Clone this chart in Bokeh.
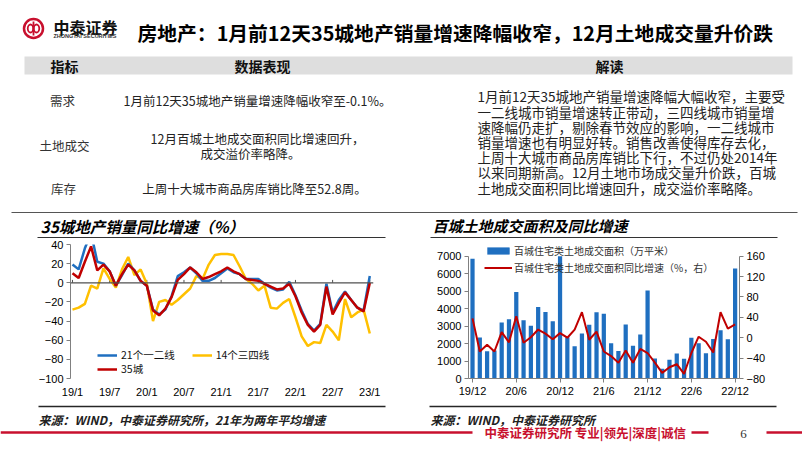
from bokeh.plotting import figure
from bokeh.models import Range1d, LinearAxis, FixedTicker, Span, Legend, LegendItem
from bokeh.layouts import column, row
from bokeh.core.properties import value
from bokeh.embed import file_html
from bokeh.resources import INLINE

CJK = "Noto Sans CJK SC"
LAT = "Liberation Sans"
RED = "#c00000"
BLUE = "#1f6fc0"
YELLOW = "#ffc000"
BRAND = "#c8102e"

# ---------------- data ----------------
sales_months = [f"{y}/{m}" for y in range(19, 24) for m in range(1, 13)][:49]
sales_tick_labels = ["19/1", "19/7", "20/1", "20/7", "21/1", "21/7", "22/1", "22/7", "23/1"]
sales_tier12 = [19, 14, 36, 52, 22, 20, 12, -3, 8, 20, 13, 2, -3, -28, -33, -28, -14, 7, 11, 16, 10, 2, 2, 5, 10,
                15, 11, 9, 4, 4, 4, -1, -5, -8, -7, 1, -13, -29, -43, -50, -43, -1, -31, -18, -9, -18, -26, -29, 7]
sales_tier34 = [-28, -26, -22, -3, -6, 15, 4, -5, 14, 27, 8, 14, -1, -40, -20, -18, -23, -18, -12, -6, 7, 4, 19, 29, 30,
                30, 29, 17, 4, -1, -8, -3, -26, -27, -21, -17, -36, -56, -66, -62, -63, -44, -51, -60, -17, -36, -31, -28, -53]
sales_35 = [10, 5, 22, 38, 13, 19, 12, -3, 9, 19, 13, 2, -3, -29, -34, -27, -15, 3, 9, 16, 11, 4, 6, 9, 12,
            16, 12, 9, 4, 3, 2, -1, -4, -7, -6, -1, -14, -31, -44, -51, -44, -4, -33, -21, -10, -18, -26, -30, -0.1]
sales_y_ticks = [-100, -80, -60, -40, -20, 0, 20, 40]

land_months = ["19/12"] + [f"{y}/{m}" for y in range(20, 23) for m in range(1, 13)]
land_tick_labels = ["19/12", "20/6", "20/12", "21/6", "21/12", "22/6", "22/12"]
land_area = [6850, 2350, 1560, 1600, 3200, 3390, 4950, 3330, 3020, 4090, 3810, 3270, 7000, 2360, 1840, 2570, 3080, 3790,
             3700, 2020, 1570, 3090, 1880, 2520, 5040, 1140, 560, 1070, 1430, 1130, 2330, 2020, 1440, 2260, 2760, 2250, 6300]
land_yoy = [38, -27, -14, -27, 11, -9, 42, -10, 1, 16, 8, -3, 9, 0, 16, 50, -4, 12, -27, -36, -49, -25, -49, -22, -30,
            -49, -69, -58, -52, -71, -30, 2, -8, -29, 50, 18, 26]
land_left_ticks = [0, 1000, 2000, 3000, 4000, 5000, 6000, 7000]
land_right_ticks = [-80, -40, 0, 40, 80, 120, 160]

title_text = "房地产：1月前12天35城地产销量增速降幅收窄，12月土地成交量升价跌"
table_headers = ["指标", "数据表现", "解读"]
table_names = ["需求", "土地成交", "库存"]
table_values = ["1月前12天35城地产销量增速降幅收窄至-0.1%。",
                "12月百城土地成交面积同比增速回升，",
                "成交溢价率略降。",
                "上周十大城市商品房库销比降至52.8周。"]
comment_lines = ["1月前12天35城地产销量增速降幅大幅收窄，主要受",
                 "一二线城市销量增速转正带动，三四线城市销量增",
                 "速降幅仍走扩，剔除春节效应的影响，一二线城市",
                 "销量增速也有明显好转。销售改善使得库存去化，",
                 "上周十大城市商品房库销比下行，不过仍处2014年",
                 "以来同期新高。12月土地市场成交量升价跌，百城",
                 "土地成交面积同比增速回升，成交溢价率略降。"]


def canvas(w, h, x0, x1, ytop, ybot):
    p = figure(width=w, height=h, x_range=Range1d(x0, x1), y_range=Range1d(ybot, ytop),
               output_backend="svg", toolbar_location=None, min_border=0,
               x_axis_location=None, y_axis_location=None)
    p.grid.visible = False
    p.outline_line_color = None
    p.background_fill_color = "white"
    p.border_fill_color = "white"
    return p


def txt(p, x, y, t, size, font=CJK, style="normal", color="#222222", align="left"):
    p.text(x=x, y=y, text=t, text_font=value(font), text_font_size=size, text_font_style=style,
           text_color=color, text_align=align, text_baseline="middle")


# ---------------- header canvas (page y 0..240) ----------------
head = canvas(802, 240, 0, 802, 0, 240)
head.circle(x=[33], y=[28], radius=9.5, fill_color="white", line_color=BRAND, line_width=2.5)
head.ellipse(x=[30, 36], y=[28, 28], width=5.5, height=8, fill_color=None, line_color=BRAND, line_width=1.8)
head.segment(x0=[33], y0=[21], x1=[33], y1=[35], line_color=BRAND, line_width=1.8)
txt(head, [53], [26], ["中泰证券"], "16px", style="bold", color="#111111")
txt(head, [53], [35.5], ["ZHONGTAI SECURITIES"], "5.5px", font=LAT, style="bold", color="#333333")
txt(head, [137], [32], [title_text], "19.8px", style="bold", color="#000000")

head.quad(left=[24], right=[792], top=[56], bottom=[74], fill_color="#dedede", line_color=None)
txt(head, [64, 262, 609], [65, 65, 65], table_headers, "14px", style="bold", color="#111111", align="center")
txt(head, [62, 64, 63], [100, 145, 188], table_names, "12.5px", color="#333333", align="center")
txt(head, [257, 257, 250, 254], [100, 138, 153, 188], table_values, "12.5px", color="#222222", align="center")
txt(head, [477] * 7, [95, 111, 126, 141, 156, 171, 187], comment_lines, "13.5px", color="#222222")

head.segment(x0=[11], y0=[212], x1=[797], y1=[212], line_color="#555555", line_width=1.2)
head.segment(x0=[37, 430], y0=[237, 237], x1=[385, 777], y1=[237, 237], line_color="#333333", line_width=1.2)
txt(head, [40], [225], ["35城地产销量同比增速（%）"], "15.5px", style="bold italic", color="#000000")
txt(head, [432], [225], ["百城土地成交面积及同比增速"], "15px", style="bold italic", color="#000000")

# ---------------- left chart (page x 0..400, y 240..404) ----------------
idx1 = list(range(len(sales_months)))
p1 = figure(width=400, height=164, x_range=Range1d(-0.32, 48.6), y_range=Range1d(-100, 40),
            output_backend="svg", toolbar_location=None,
            min_border_left=70, min_border_right=27, min_border_top=4, min_border_bottom=21)
p1.grid.visible = False
p1.outline_line_color = None
ticks1 = [i for i in idx1 if i % 6 == 0]
p1.xaxis.ticker = FixedTicker(ticks=ticks1)
p1.xaxis.major_label_overrides = {t: lab for t, lab in zip(ticks1, sales_tick_labels)}
p1.xaxis.axis_line_color = None
p1.xaxis.major_tick_out = 0
p1.xaxis.major_tick_in = 0
p1.xaxis.minor_tick_out = 0
p1.xaxis.minor_tick_in = 0
p1.xaxis.major_label_standoff = 7
p1.yaxis.ticker = FixedTicker(ticks=sales_y_ticks)
p1.yaxis.axis_line_color = "#808080"
p1.yaxis.major_tick_line_color = "#808080"
p1.yaxis.major_tick_out = 4
p1.yaxis.major_tick_in = 0
p1.yaxis.minor_tick_out = 0
p1.yaxis.minor_tick_in = 0
p1.yaxis.major_label_standoff = 3
for ax in [p1.xaxis[0], p1.yaxis[0]]:
    ax.major_label_text_font = LAT
    ax.major_label_text_font_size = "11px"
    ax.major_label_text_color = "#000000"
p1.add_layout(Span(location=0, dimension="width", line_color="#505050", line_width=1.2))
p1.segment(x0=ticks1, y0=[0] * len(ticks1), x1=ticks1, y1=[3] * len(ticks1), line_color="#505050", line_width=1)

r_y = p1.line(idx1, sales_tier34, line_color=YELLOW, line_width=2.5)
r_b = p1.line(idx1, sales_tier12, line_color=BLUE, line_width=2.5)
r_r = p1.line(idx1, sales_35, line_color=RED, line_width=2.5)

leg_common = dict(padding=0, margin=0, border_line_color=None, background_fill_alpha=0,
                  glyph_width=20, glyph_height=12, label_height=14, label_standoff=4,
                  label_text_font=CJK, label_text_font_size="10.5px", label_text_color="#111111")
leg1 = Legend(items=[LegendItem(label="21个一二线", renderers=[r_b]),
                     LegendItem(label="14个三四线", renderers=[r_y])],
              orientation="horizontal", location=(27, 16), spacing=17, **leg_common)
leg2 = Legend(items=[LegendItem(label="35城", renderers=[r_r])],
              orientation="horizontal", location=(27, 2), **leg_common)
p1.add_layout(leg1)
p1.add_layout(leg2)

# ---------------- right chart (page x 400..802, y 240..404) ----------------
idx2 = list(range(len(land_months)))
p2 = figure(width=402, height=164, x_range=Range1d(-0.55, 36.6), y_range=Range1d(0, 7666.7),
            output_backend="svg", toolbar_location=None,
            min_border_left=68, min_border_right=63, min_border_top=0, min_border_bottom=26)
p2.grid.visible = False
p2.outline_line_color = None
p2.extra_y_ranges = {"pct": Range1d(-80, 182.86)}
p2.add_layout(LinearAxis(y_range_name="pct", ticker=FixedTicker(ticks=land_right_ticks), bounds=(-80, 160)), "right")
ticks2 = [i for i in idx2 if i % 6 == 0]
p2.xaxis.ticker = FixedTicker(ticks=ticks2)
p2.xaxis.major_label_overrides = {t: lab for t, lab in zip(ticks2, land_tick_labels)}
p2.yaxis[0].ticker = FixedTicker(ticks=land_left_ticks)
p2.yaxis[0].bounds = (0, 7000)
for ax in list(p2.xaxis) + list(p2.yaxis):
    ax.axis_line_color = "#808080"
    ax.major_tick_line_color = "#808080"
    ax.major_tick_out = 4
    ax.major_tick_in = 0
    ax.minor_tick_out = 0
    ax.minor_tick_in = 0
    ax.major_label_standoff = 3
    ax.major_label_text_font = LAT
    ax.major_label_text_font_size = "11px"
    ax.major_label_text_color = "#000000"
p2.xaxis.major_label_standoff = 2

r_bar = p2.vbar(x=idx2, top=land_area, width=0.58, fill_color=BLUE, line_color=None)
r_yoy = p2.line(idx2, land_yoy, y_range_name="pct", line_color=RED, line_width=2)
leg3 = Legend(items=[LegendItem(label="百城住宅类土地成交面积（万平米）", renderers=[r_bar]),
                     LegendItem(label="百城住宅类土地成交面积同比增速（%，右）", renderers=[r_yoy])],
              location=(16, 103), padding=0, margin=0, spacing=2, border_line_color=None,
              background_fill_alpha=0, glyph_width=28, glyph_height=9, label_height=15, label_standoff=2,
              label_text_font=CJK, label_text_font_size="10px", label_text_color="#333333")
p2.add_layout(leg3)

# ---------------- footer canvas (page y 404..452) ----------------
foot = canvas(802, 48, 0, 802, 404, 452)
foot.segment(x0=[38, 429], y0=[406, 406], x1=[385, 776], y1=[406, 406], line_color="#262626", line_width=1.5)
txt(foot, [38], [419], ["来源：WIND，中泰证券研究所，21年为两年平均增速"], "12px", style="bold italic", color="#222222")
txt(foot, [430], [419], ["来源：WIND，中泰证券研究所"], "12px", style="bold italic", color="#222222")
foot.segment(x0=[0, 691, 766], y0=[432, 432, 432], x1=[472, 708, 802], y1=[432, 432, 432],
             line_color=BRAND, line_width=2.5)
txt(foot, [484], [432], ["中泰证券研究所 专业|领先|深度|诚信"], "12.5px", style="bold", color=BRAND)
txt(foot, [743], [433], ["6"], "13px", font="Liberation Serif", color="#333333", align="center")

layout = column(head, row(p1, p2, spacing=0), foot, spacing=0)
open("out.html", "w").write(file_html(layout, INLINE))
